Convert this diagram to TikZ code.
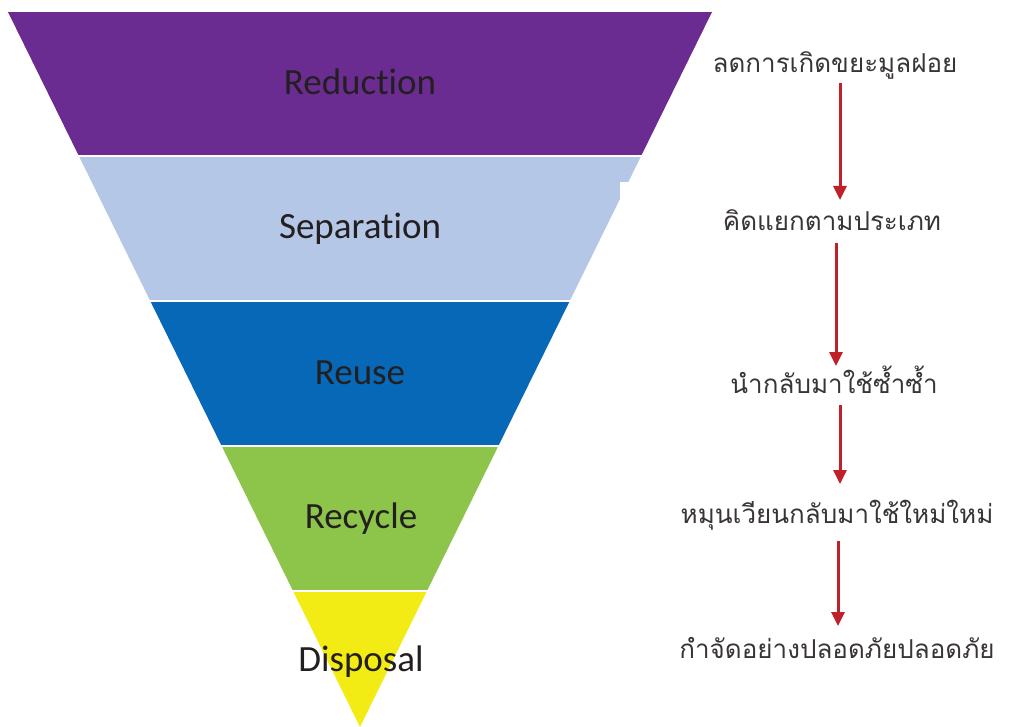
\documentclass[tikz,border=0pt]{standalone}
\usepackage{fontspec}
\setmainfont[Ligatures={NoCommon},RawFeature={-liga}]{Carlito}
\newfontfamily\thaifont[Script=Thai]{Loma}
\usetikzlibrary{arrows.meta}
\definecolor{cPurple}{HTML}{6A2C91}
\definecolor{cLBlue}{HTML}{B4C7E7}
\definecolor{cBlue}{HTML}{0868B8}
\definecolor{cGreen}{HTML}{8DC44A}
\definecolor{cYellow}{HTML}{F2EB14}
\definecolor{cText}{HTML}{231F20}
\definecolor{cArrow}{HTML}{C0202A}
\tikzset{
  band/.style={font=\fontsize{37}{40}\selectfont, text=cText, inner sep=0pt},
  thai/.style={font=\thaifont\fontsize{26}{30}\selectfont, text=cText!90, inner sep=0pt, anchor=base},
  arr/.style={draw=cArrow, line width=3pt, -{Triangle[width=13pt,length=14pt]}}
}
\begin{document}
\begin{tikzpicture}[x=1pt,y=-1pt]
\useasboundingbox (0,0) rectangle (1011,727);
\begin{scope}
  \clip (8,12) -- (712,12) -- (360,727) -- cycle;
  \fill[cPurple] (0,12) rectangle (1011,155);
  \fill[cLBlue]  (0,157) rectangle (1011,300);
  \fill[cBlue]   (0,302) rectangle (1011,445);
  \fill[cGreen]  (0,447) rectangle (1011,590);
  \fill[cYellow] (0,592) rectangle (1011,727);
\end{scope}
\fill[white] (620,182) rectangle (650,200);
\node[band] (red) at (360,82) {Reduction};
\node[band] (sep) at (360,229) {Separation};
\node[band] (reu) at (360,373) {Reuse};
\node[band] (rec) at (361,519) {Recycle};
\node[band] (dis) at (361,662) {Disposal};
\node[thai] (t1) at (835,73) {ลดการเกิดขยะมูลฝอย};
\node[thai] (t2) at (832,231) {คิดแยกตามประเภท};
\node[thai] (t3) at (834,393) {นำกลับมาใช้ซ้ำซ้ำ};
\node[thai] (t4) at (837,523) {หมุนเวียนกลับมาใช้ใหม่ใหม่};
\node[thai] (t5) at (837,658) {กำจัดอย่างปลอดภัยปลอดภัย};
\coordinate (a1) at (840,83);  \coordinate (b1) at (840,200);
\coordinate (a2) at (836,243); \coordinate (b2) at (836,366);
\coordinate (a3) at (840,405); \coordinate (b3) at (840,484);
\coordinate (a4) at (838,541); \coordinate (b4) at (838,626);
\draw[arr] (a1) -- (b1);
\draw[arr] (a2) -- (b2);
\draw[arr] (a3) -- (b3);
\draw[arr] (a4) -- (b4);
\end{tikzpicture}
\end{document}
